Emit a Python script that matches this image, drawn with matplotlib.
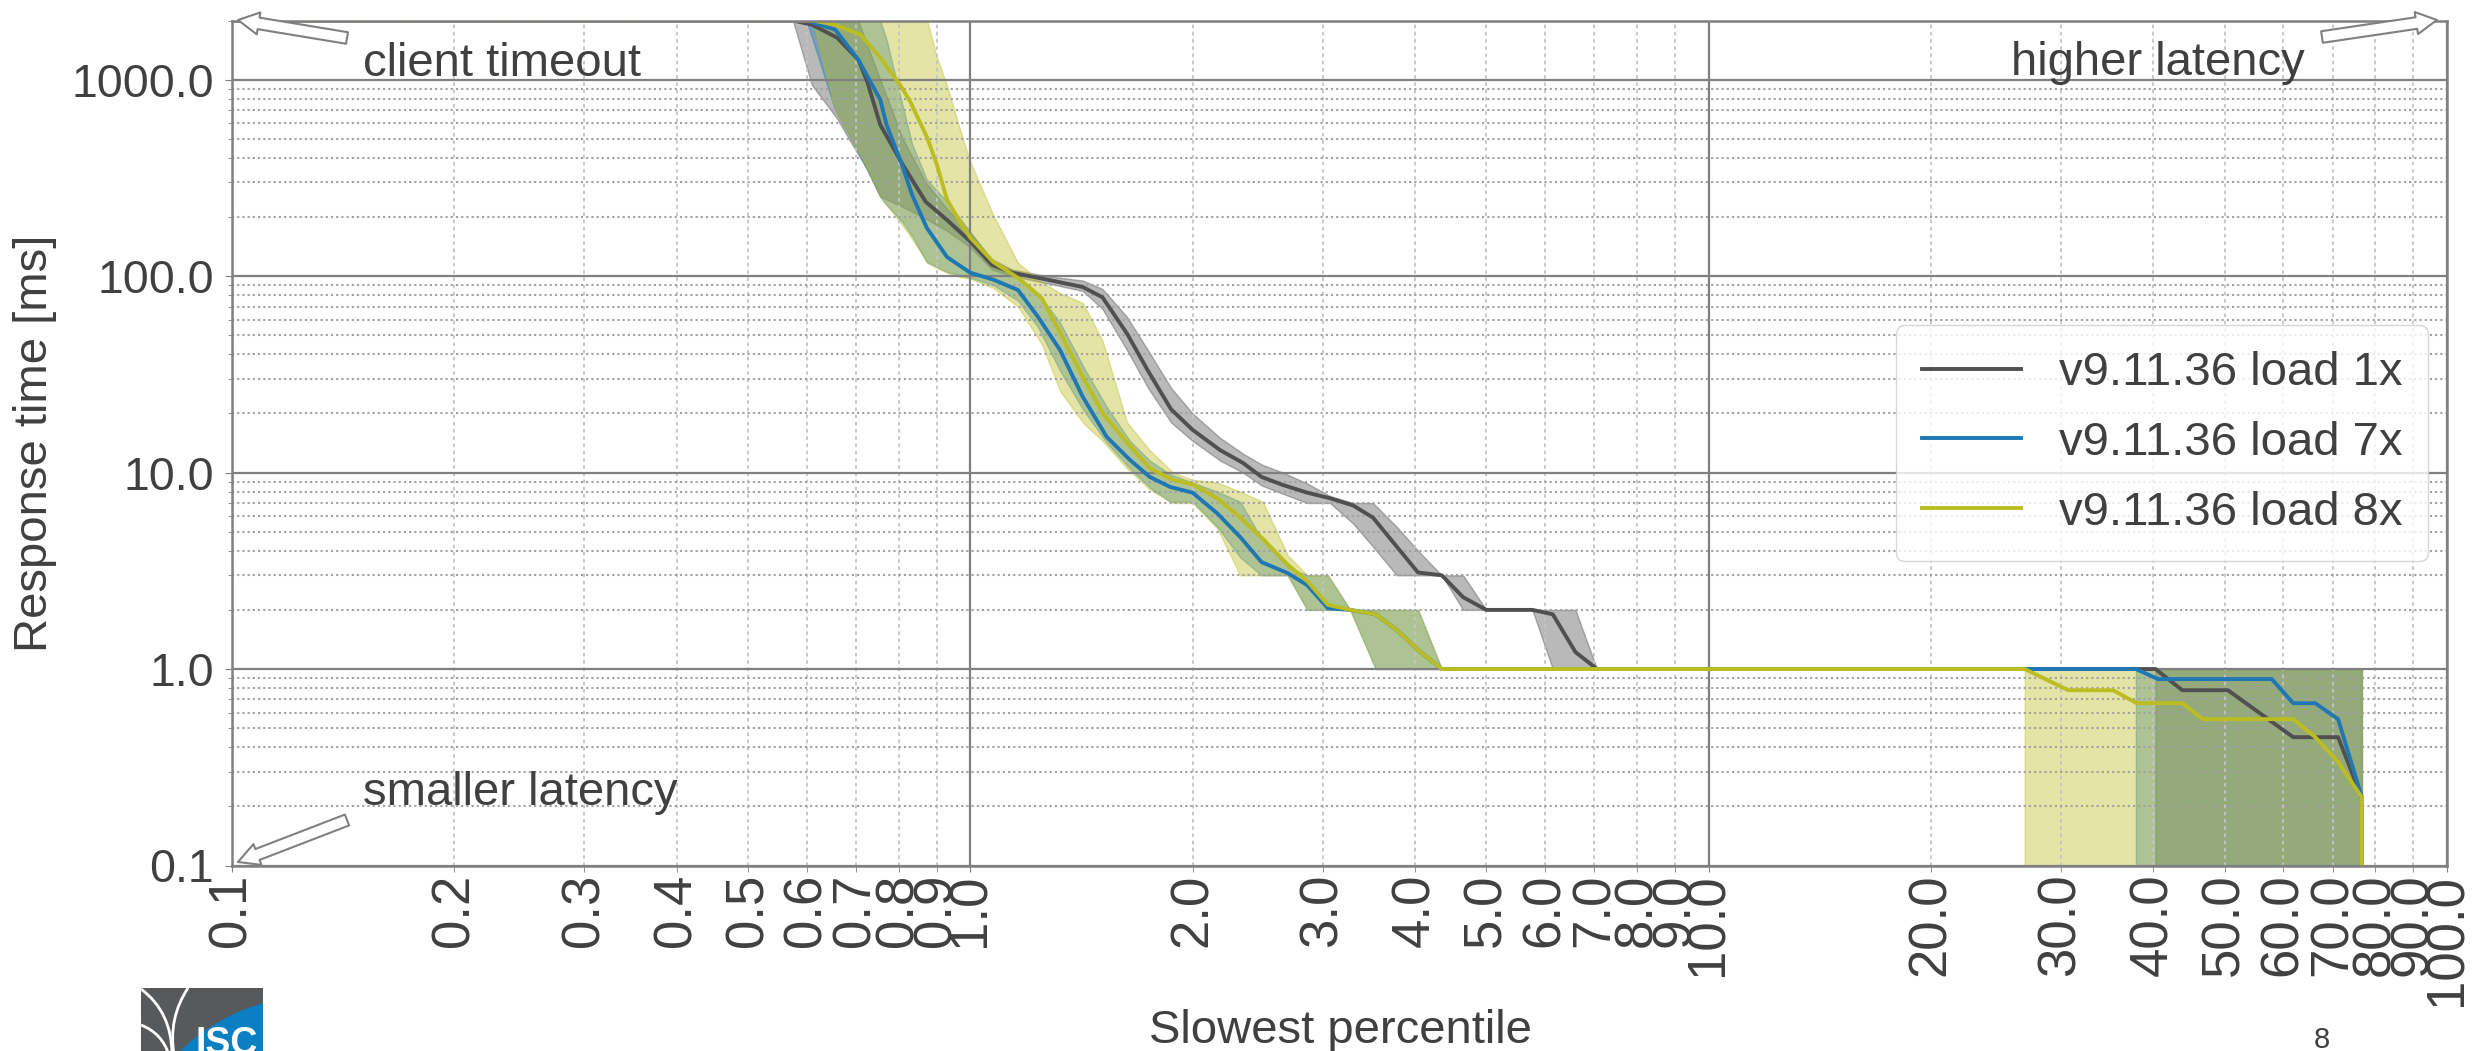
import numpy as np
import matplotlib
matplotlib.use("Agg")
import matplotlib.pyplot as plt
import matplotlib.ticker as mtick
from matplotlib.patches import Rectangle, Circle, PathPatch, FancyArrowPatch
from matplotlib.path import Path

plt.rcParams['font.family'] = ['Liberation Sans', 'DejaVu Sans']

# ---------------- data ----------------
labels = ["v9.11.36 load 1x", "v9.11.36 load 7x", "v9.11.36 load 8x"]
colors = ["#505050", "#1f77b4", "#bcbd22"]

# load 1x
pct_1x = [0.1, 0.575, 0.61, 0.66, 0.705, 0.725, 0.755, 0.81, 0.87, 0.93, 1.0, 1.07, 1.14, 1.27,
          1.42, 1.51, 1.63, 1.74, 1.87, 2.0, 2.18, 2.34, 2.48, 2.65, 2.86, 3.07, 3.30, 3.51,
          3.78, 4.04, 4.35, 4.65, 5.0, 5.77, 6.15, 6.6, 7.06, 10.0, 20.0, 40.3, 40.3, 43.8,
          50.5, 61.9, 71.2, 76.7, 76.7]
mid_1x = [2000, 2000, 1905, 1636, 1265, 977, 590, 369, 239, 193, 150, 114, 104, 96,
          88, 78, 51, 33, 21, 16.5, 13, 11.2, 9.5, 8.65, 7.9, 7.4, 6.8, 5.9,
          4.2, 3.1, 3.0, 2.32, 2.0, 2.0, 1.9, 1.22, 1.0, 1.0, 1.0, 1.0, 1.0, 0.78,
          0.78, 0.45, 0.45, 0.22, 0.1]
low_1x = [2000, 2000, 940, 633, 415, 348, 254, 225, 196, 170, 140, 108, 100, 92,
          84, 68, 42, 27, 18, 14.5, 11.5, 10, 8.6, 7.8, 7.0, 7.0, 5.5, 4.2,
          3.0, 3.0, 3.0, 2.0, 2.0, 2.0, 1.0, 1.0, 1.0, 1.0, 1.0, 1.0, 0.1, 0.1,
          0.1, 0.1, 0.1, 0.1, 0.1]
high_1x = [2000, 2000, 2000, 2000, 2000, 1500, 1000, 500, 300, 220, 165, 122, 108, 100,
           95, 86, 62, 42, 27, 20, 15, 12.5, 11, 10, 8.8, 7.6, 7.0, 7.0,
           5.3, 4.0, 3.0, 3.0, 2.0, 2.0, 2.0, 2.0, 1.0, 1.0, 1.0, 1.0, 1.0, 1.0,
           1.0, 1.0, 1.0, 1.0, 0.1]

# load 7x
pct_7x = [0.1, 0.6, 0.656, 0.705, 0.755, 0.77, 0.808, 0.834, 0.873, 0.93, 1.0, 1.074, 1.16,
          1.235, 1.323, 1.42, 1.53, 1.645, 1.75, 1.865, 2.0, 2.16, 2.32, 2.48, 2.69, 2.86,
          3.05, 3.27, 3.54, 3.78, 4.04, 4.35, 10.0, 20.0, 37.9, 37.9, 40.6, 57.9, 61.9,
          66.3, 71.2, 76.7, 76.7]
mid_7x = [2000, 2000, 1798, 1265, 791, 590, 369, 259, 176, 125, 104, 96, 85,
          62, 42, 24.3, 15.2, 11.6, 9.5, 8.45, 7.9, 6.2, 4.7, 3.5, 3.08, 2.67,
          2.04, 2.0, 1.9, 1.58, 1.25, 1.0, 1.0, 1.0, 1.0, 1.0, 0.889, 0.889, 0.67,
          0.67, 0.556, 0.222, 0.1]
low_7x = [2000, 2000, 700, 430, 254, 230, 190, 160, 118, 105, 98, 90, 75,
          55, 33, 21, 14.2, 10.5, 8.4, 7.1, 7.1, 5.3, 3.7, 3.0, 3.0, 2.0,
          2.0, 2.0, 1.0, 1.0, 1.0, 1.0, 1.0, 1.0, 1.0, 0.1, 0.1, 0.1, 0.1,
          0.1, 0.1, 0.1, 0.1]
high_7x = [2000, 2000, 2000, 2000, 2000, 1600, 760, 470, 310, 240, 168, 118, 100,
           82, 58, 35, 21.6, 14.5, 11.5, 9.8, 8.9, 8.0, 7.1, 4.6, 3.3, 3.0,
           3.0, 2.0, 2.0, 2.0, 2.0, 1.0, 1.0, 1.0, 1.0, 1.0, 1.0, 1.0, 1.0,
           1.0, 1.0, 1.0, 0.1]

# load 8x
pct_8x = [0.1, 0.612, 0.656, 0.71, 0.755, 0.803, 0.829, 0.874, 0.901, 0.93, 0.968, 1.0,
          1.074, 1.16, 1.25, 1.323, 1.42, 1.51, 1.63, 1.75, 1.88, 2.0, 2.16, 2.32, 2.49,
          2.69, 2.86, 3.05, 3.27, 3.54, 3.78, 4.04, 4.35, 10.0, 20.0, 26.8, 26.8, 30.7,
          35.3, 38.0, 43.8, 46.7, 61.9, 66.3, 71.2, 76.7, 76.7]
mid_8x = [2000, 2000, 1900, 1695, 1295, 943, 773, 507, 369, 245, 189, 157,
          118, 98, 77, 51.4, 30.7, 20.1, 14.2, 10.5, 9.2, 8.7, 7.4, 5.9, 4.6,
          3.4, 2.8, 2.12, 2.0, 1.9, 1.58, 1.25, 1.0, 1.0, 1.0, 1.0, 1.0, 0.78,
          0.78, 0.67, 0.67, 0.556, 0.556, 0.45, 0.336, 0.222, 0.1]
low_8x = [2000, 2000, 700, 415, 254, 189, 160, 117, 110, 104, 99, 97,
          87, 70, 45, 26, 18, 14.5, 10.5, 8.2, 7.0, 7.0, 5.2, 3.0, 3.0,
          3.0, 2.0, 2.0, 2.0, 1.0, 1.0, 1.0, 1.0, 1.0, 1.0, 1.0, 0.1, 0.1,
          0.1, 0.1, 0.1, 0.1, 0.1, 0.1, 0.1, 0.1, 0.1]
high_8x = [2000, 2000, 2000, 2000, 2000, 2000, 2000, 2000, 1300, 930, 560, 380,
           205, 117, 93, 82, 73, 47, 18, 13, 10, 9.2, 8.9, 8.0, 7.1,
           3.8, 3.0, 3.0, 2.0, 2.0, 2.0, 2.0, 1.0, 1.0, 1.0, 1.0, 1.0, 1.0,
           1.0, 1.0, 1.0, 1.0, 1.0, 1.0, 1.0, 1.0, 0.1]

x_ticks = [0.1, 0.2, 0.3, 0.4, 0.5, 0.6, 0.7, 0.8, 0.9, 1.0, 2.0, 3.0, 4.0, 5.0, 6.0, 7.0,
           8.0, 9.0, 10.0, 20.0, 30.0, 40.0, 50.0, 60.0, 70.0, 80.0, 90.0, 100.0]
y_ticks = [0.1, 1.0, 10.0, 100.0, 1000.0]

series = [
    (pct_1x, mid_1x, low_1x, high_1x),
    (pct_7x, mid_7x, low_7x, high_7x),
    (pct_8x, mid_8x, low_8x, high_8x),
]

# ---------------- figure ----------------
W, H = 2472, 1051
TC = "#404040"
fig = plt.figure(figsize=(W / 100, H / 100), dpi=100)
fig.patch.set_facecolor("white")
ax = fig.add_axes([232 / W, 1 - 865.5 / H, (2447 - 232) / W, (865.5 - 20.5) / H])

for (x, m, lo, hi), c in zip(series, colors):
    ax.fill_between(x, lo, hi, color=c, alpha=0.4, lw=1)
for (x, m, lo, hi), c, lab in zip(series, colors, labels):
    ax.plot(x, m, color=c, lw=2.8, label=lab)

ax.set_xscale("log")
ax.set_yscale("log")
ax.set_xlim(0.1, 100)
ax.set_ylim(0.1, 2000)

ax.xaxis.set_major_locator(mtick.FixedLocator([0.1, 1.0, 10.0, 100.0]))
ax.xaxis.set_minor_locator(mtick.FixedLocator([t for t in x_ticks if t not in (0.1, 1.0, 10.0, 100.0)]))
ax.xaxis.set_major_formatter(mtick.FormatStrFormatter("%.1f"))
ax.xaxis.set_minor_formatter(mtick.FormatStrFormatter("%.1f"))
ax.yaxis.set_major_locator(mtick.FixedLocator(y_ticks))
ax.yaxis.set_minor_locator(mtick.LogLocator(base=10, subs=np.arange(2, 10)))
ax.yaxis.set_major_formatter(mtick.FormatStrFormatter("%.1f"))
ax.yaxis.set_minor_formatter(mtick.NullFormatter())

ax.tick_params(axis="x", which="both", labelsize=38, labelrotation=90, colors="#808080",
               labelcolor=TC, length=4, pad=2)
ax.tick_params(axis="y", which="major", labelsize=33.5, colors="#808080", labelcolor=TC,
               length=5, pad=8)
ax.tick_params(axis="y", which="minor", colors="#808080", length=3)

ax.grid(True, which="major", color="#808080", lw=1.6, ls="-")
ax.grid(True, which="minor", axis="y", color="#a0a0a0", lw=1.5, ls=(0, (1, 1.5)))
ax.grid(True, which="minor", axis="x", color="#c4c4c4", lw=1.3, ls=(0, (2, 2)))
for s in ax.spines.values():
    s.set_color("#808080")
    s.set_linewidth(1.8)

leg = ax.legend(loc="center right", fontsize=34, borderaxespad=0.4, borderpad=0.55,
                edgecolor="#cccccc", handlelength=2.1, labelspacing=0.55)
for t in leg.get_texts():
    t.set_color(TC)

# labels
fig.text(35 / W, 1 - 443 / H, "Response time [ms]", rotation=90, ha="center", va="center",
         fontsize=34, color=TC)
fig.text(1340 / W, 1 - 1043 / H, "Slowest percentile", ha="center", va="baseline",
         fontsize=34, color=TC)
fig.text(2322 / W, 1 - 1048 / H, "8", ha="center", va="baseline", fontsize=21, color=TC)

# annotations
fig.text(363 / W, 1 - 76 / H, "client timeout", ha="left", va="baseline", fontsize=34, color=TC)
fig.text(2305 / W, 1 - 75 / H, "higher latency", ha="right", va="baseline", fontsize=34, color=TC)
fig.text(363 / W, 1 - 805 / H, "smaller latency", ha="left", va="baseline", fontsize=34, color=TC)

arrow_style = "simple,head_length=0.75,head_width=0.8,tail_width=0.42"
for tail, head in [((347, 38), (238, 20)), ((2322, 37), (2437, 20)), ((347, 820), (238, 862))]:
    fig.add_artist(FancyArrowPatch(
        (tail[0] / W, 1 - tail[1] / H), (head[0] / W, 1 - head[1] / H),
        transform=fig.transFigure, arrowstyle=arrow_style,
        fc="white", ec="#808080", lw=1.5, mutation_scale=20, shrinkA=0, shrinkB=0))

# ISC logo (partially cut by the bottom edge)
lax = fig.add_axes([141 / W, 0, 122 / W, 63 / H])
lax.set_xlim(141, 263)
lax.set_ylim(1051, 988)
lax.set_axis_off()
lax.add_patch(Rectangle((141, 988), 122, 70, color="#58595b", clip_on=True))
lax.add_patch(Circle((318, 1194), 198, color="#0a7fc1", clip_on=True))
for verts in [[(141, 989), (172, 1012), (172, 1055)],
              [(188, 988), (168, 1018), (174, 1055)],
              [(141, 1025), (162, 1033), (169, 1055)]]:
    p = Path(verts, [Path.MOVETO, Path.CURVE3, Path.CURVE3])
    lax.add_patch(PathPatch(p, fc="none", ec="white", lw=2, clip_on=True))
lax.text(227, 1054, "ISC", ha="center", va="baseline", color="white", fontsize=27,
         fontweight="bold", clip_on=True)

fig.savefig("out.png", dpi=100, facecolor="white")
